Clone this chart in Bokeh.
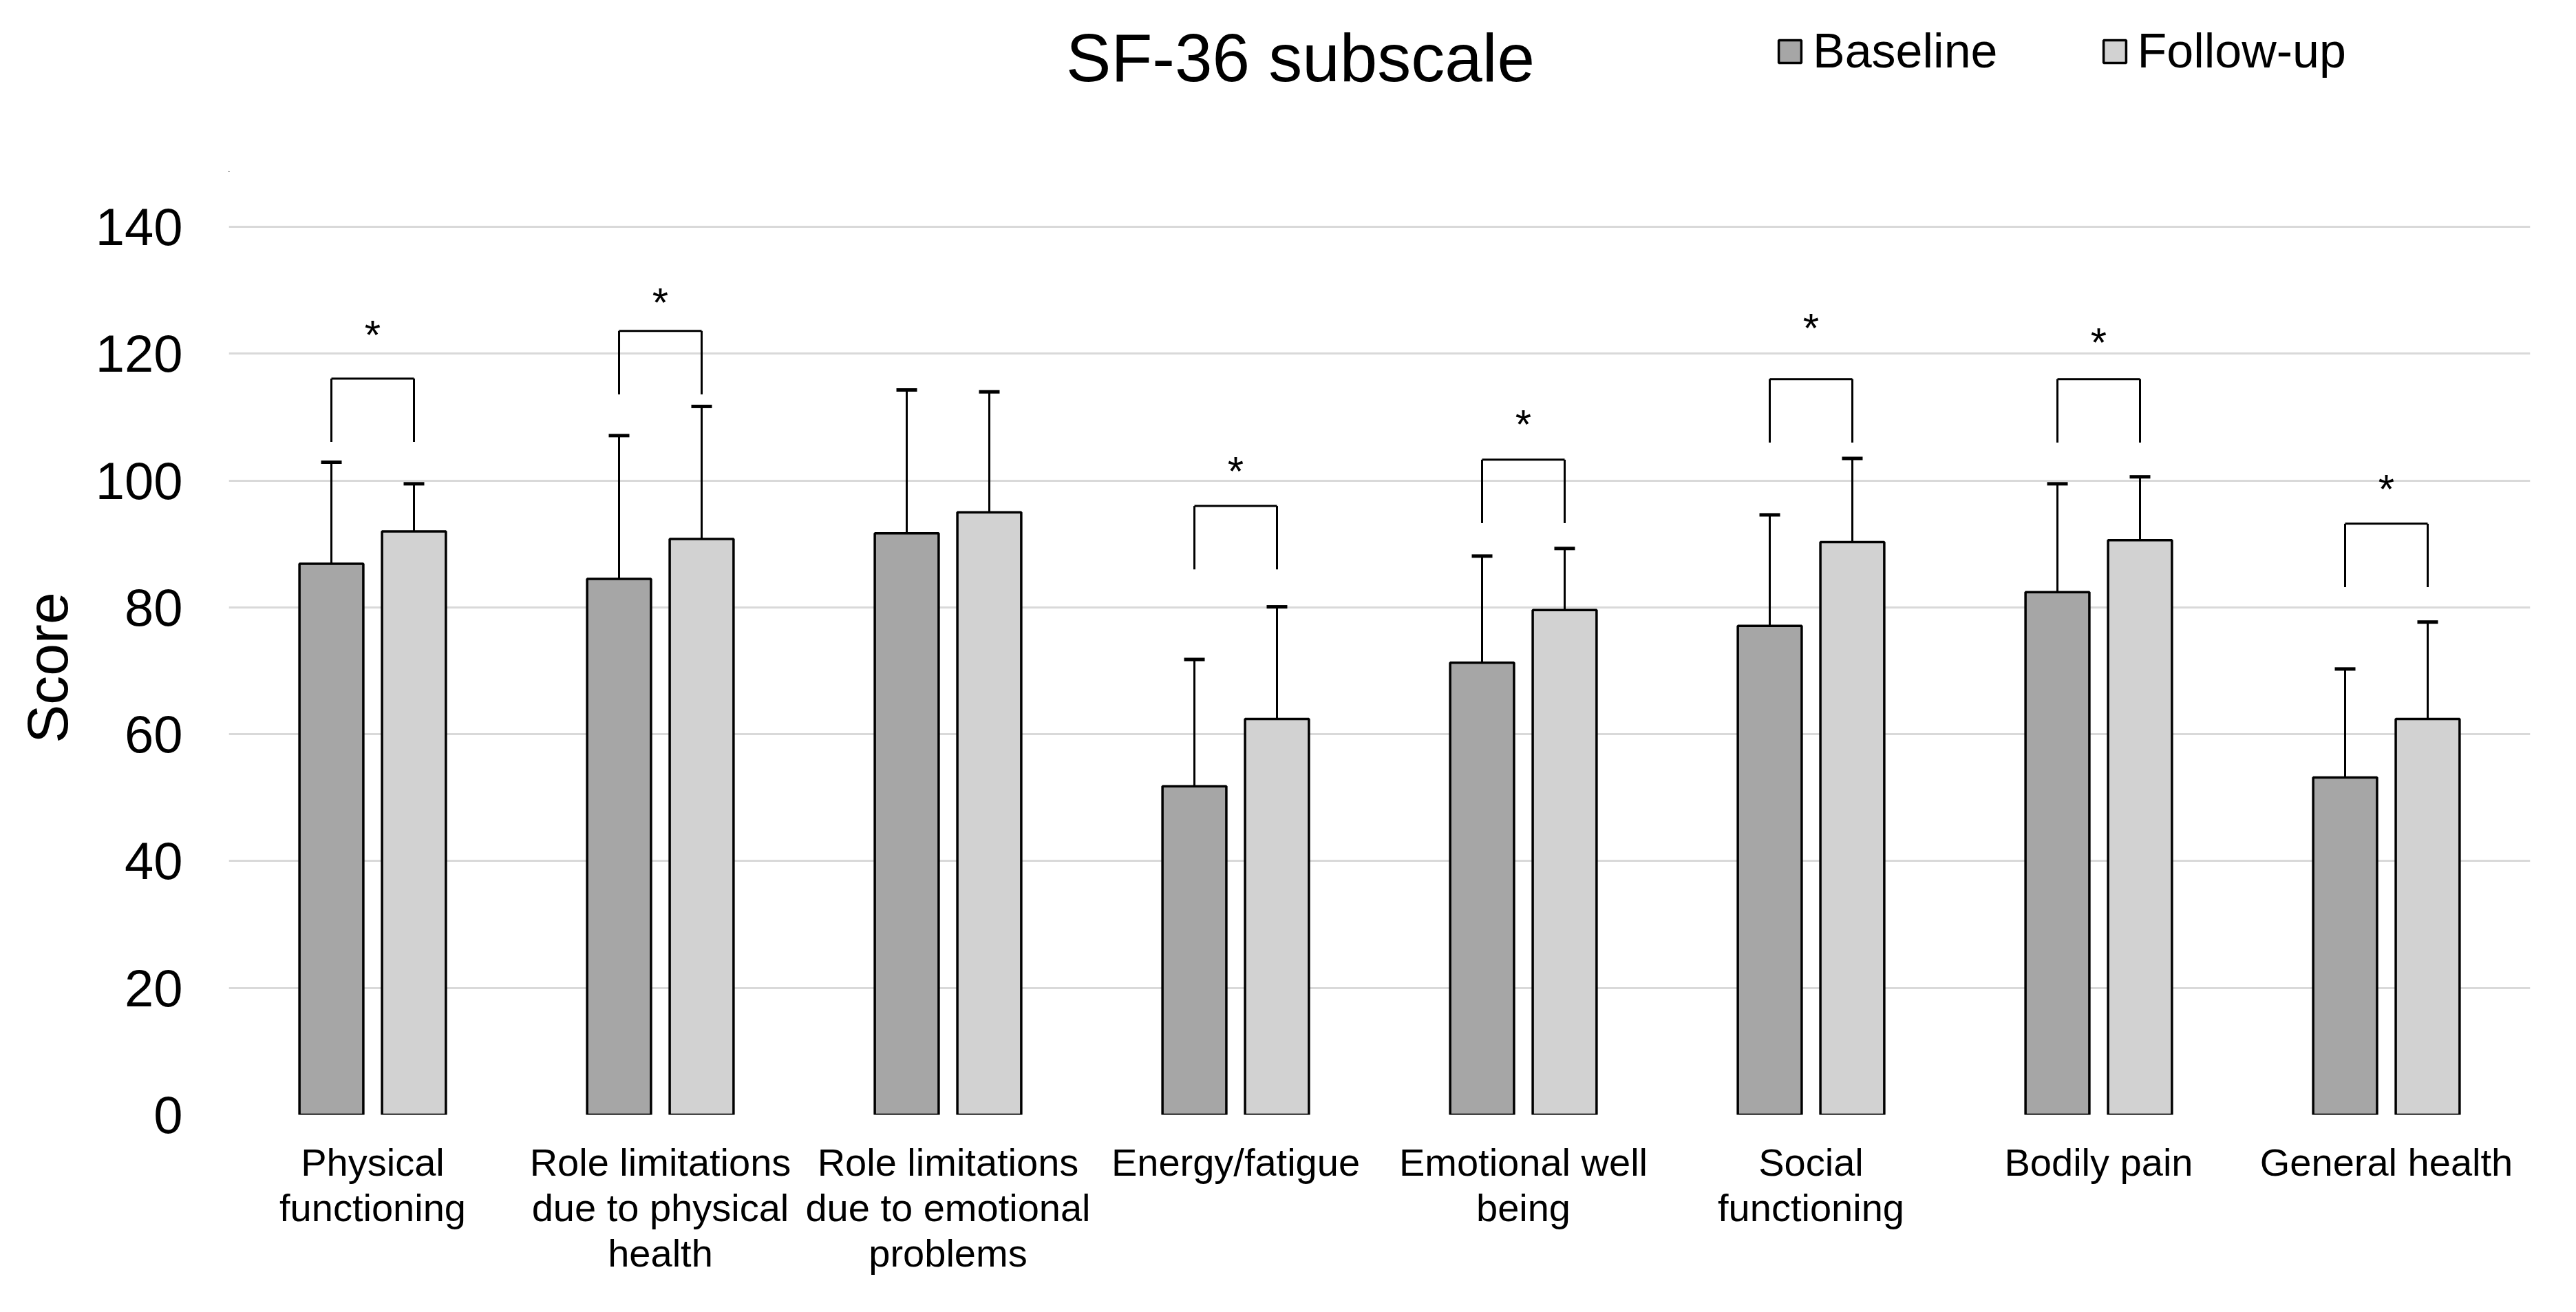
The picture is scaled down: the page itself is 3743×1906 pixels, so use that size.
from bokeh.plotting import figure
from bokeh.models import (ColumnDataSource, Range1d, FixedTicker, Whisker, TeeHead,
                          Legend, LegendItem, Label)
from bokeh.layouts import column
from bokeh.transform import dodge
from bokeh.embed import file_html
from bokeh.resources import INLINE

# ---------------- data ----------------
categories = ["Physical\nfunctioning",
              "Role limitations\ndue to physical\nhealth",
              "Role limitations\ndue to emotional\nproblems",
              "Energy/fatigue",
              "Emotional well\nbeing",
              "Social\nfunctioning",
              "Bodily pain",
              "General health"]
baseline = [86.9, 84.5, 91.7, 51.8, 71.3, 77.1, 82.4, 53.2]
followup = [92.0, 90.8, 95.0, 62.4, 79.6, 90.3, 90.6, 62.4]
baseline_sd = [16.0, 22.6, 22.6, 20.0, 16.8, 17.5, 17.1, 17.1]
followup_sd = [7.5, 20.9, 19.0, 17.7, 9.7, 13.2, 10.0, 15.3]

# significance brackets (categories with p < 0.05)
sig_categories = [categories[i] for i in (0, 1, 3, 4, 5, 6, 7)]
bracket_top = [116.1, 123.6, 96.0, 103.3, 116.0, 116.0, 93.2]
star_y = [124.5, 129.6, 103.0, 110.4, 125.6, 123.3, 100.2]
bracket_leg = 10.0

y_ticks = [0, 20, 40, 60, 80, 100, 120, 140]
series_names = ["Baseline", "Follow-up"]
title_text = "SF-36 subscale"

FONT = "Liberation Sans"
C_BASE = "#a6a6a6"
C_FOLL = "#d2d2d2"
OFF = 0.1435
BW = 0.222

W = 3727
FRAME_W = 3344
HEADER_H = 250
MAIN_H = 1890 - HEADER_H

src = ColumnDataSource(dict(
    cat=categories,
    base=baseline,
    foll=followup,
    base_up=[m + s for m, s in zip(baseline, baseline_sd)],
    foll_up=[m + s for m, s in zip(followup, followup_sd)],
))
sig = ColumnDataSource(dict(
    cat=sig_categories,
    top=bracket_top,
    leg=[t - bracket_leg for t in bracket_top],
    star_y=star_y,
    star=["*"] * len(sig_categories),
))

# ---------------- header (title + legend) ----------------
hdr = figure(width=W, height=HEADER_H, x_range=Range1d(0, FRAME_W),
             y_range=Range1d(0, HEADER_H),
             x_axis_type=None, y_axis_type=None, output_backend="svg",
             toolbar_location=None, min_border=0)
hdr.outline_line_color = None
hdr.add_layout(Label(x=1557, y=167, text=title_text, text_align="center",
                     text_baseline="alphabetic", text_font=FONT,
                     text_font_size="98px", text_color="black"))
# off-screen proxies used only for the legend swatches
d1 = hdr.vbar(x=[-5000], top=[-5000], bottom=[-6000], width=1, fill_color=C_BASE,
              line_color="black", line_width=3.5)
d2 = hdr.vbar(x=[-5000], top=[-5000], bottom=[-6000], width=1, fill_color=C_FOLL,
              line_color="black", line_width=3.5)
legend = Legend(items=[LegendItem(label=series_names[0], renderers=[d1]),
                       LegendItem(label=series_names[1], renderers=[d2])],
                orientation="horizontal", location=(2248, 136),
                glyph_width=41, glyph_height=41, label_standoff=13, spacing=149,
                padding=0, margin=0, border_line_color=None,
                background_fill_alpha=0, label_text_font=FONT,
                label_text_font_size="70px", label_text_color="black")
hdr.add_layout(legend, "center")

# ---------------- main chart ----------------
p = figure(x_range=categories, y_range=Range1d(0, 141),
           width=W, height=MAIN_H, output_backend="svg", toolbar_location=None,
           min_border_left=332, min_border_right=51, min_border_top=70,
           min_border_bottom=271)
p.outline_line_color = None
p.background_fill_color = "white"

r1 = p.vbar(x=dodge("cat", -OFF, range=p.x_range), top="base", width=BW, source=src,
            fill_color=C_BASE, line_color="black", line_width=3.5)
r2 = p.vbar(x=dodge("cat", OFF, range=p.x_range), top="foll", width=BW, source=src,
            fill_color=C_FOLL, line_color="black", line_width=3.5)

for col_lo, col_up, off in (("base", "base_up", -OFF), ("foll", "foll_up", OFF)):
    w = Whisker(base=dodge("cat", off, range=p.x_range), lower=col_lo, upper=col_up,
                source=src, line_color="black", line_width=3, lower_head=None,
                upper_head=TeeHead(size=30, line_color="black", line_width=5),
                level="overlay")
    p.add_layout(w)

L = dodge("cat", -OFF, range=p.x_range)
R = dodge("cat", OFF, range=p.x_range)
p.segment(x0=L, y0="leg", x1=L, y1="top", source=sig, line_color="black", line_width=3)
p.segment(x0=R, y0="leg", x1=R, y1="top", source=sig, line_color="black", line_width=3)
p.segment(x0=L, y0="top", x1=R, y1="top", source=sig, line_color="black", line_width=3)
p.text(x="cat", y="star_y", text="star", source=sig, text_align="center",
       text_baseline="middle", text_font_size="60px", text_color="black",
       text_font={"value": FONT}, y_offset=14)

p.xgrid.grid_line_color = None
p.ygrid.grid_line_color = "#d9d9d9"
p.ygrid.grid_line_width = 3
p.yaxis.ticker = FixedTicker(ticks=y_ticks)
p.yaxis.axis_line_color = None
p.yaxis.major_tick_line_color = None
p.yaxis.minor_tick_line_color = None
p.yaxis.major_tick_out = 0
p.yaxis.major_tick_in = 0
p.yaxis.major_label_standoff = 67
p.yaxis.major_label_text_font = FONT
p.yaxis.major_label_text_font_size = "76px"
p.yaxis.major_label_text_color = "black"
p.yaxis.axis_label = "Score"
p.yaxis.axis_label_text_font = FONT
p.yaxis.axis_label_text_font_size = "84px"
p.yaxis.axis_label_text_font_style = "normal"
p.yaxis.axis_label_text_color = "black"
p.yaxis.axis_label_standoff = 20

p.xaxis.axis_line_color = None
p.xaxis.major_tick_line_color = None
p.xaxis.major_tick_out = 0
p.xaxis.major_tick_in = 0
p.xaxis.major_label_standoff = 37
p.xaxis.major_label_text_font = FONT
p.xaxis.major_label_text_font_size = "56px"
p.xaxis.major_label_text_line_height = 1.05
p.xaxis.major_label_text_color = "black"
p.xaxis.major_label_orientation = "horizontal"

layout = column(hdr, p, spacing=0)
open("out.html", "w").write(file_html(layout, INLINE))
